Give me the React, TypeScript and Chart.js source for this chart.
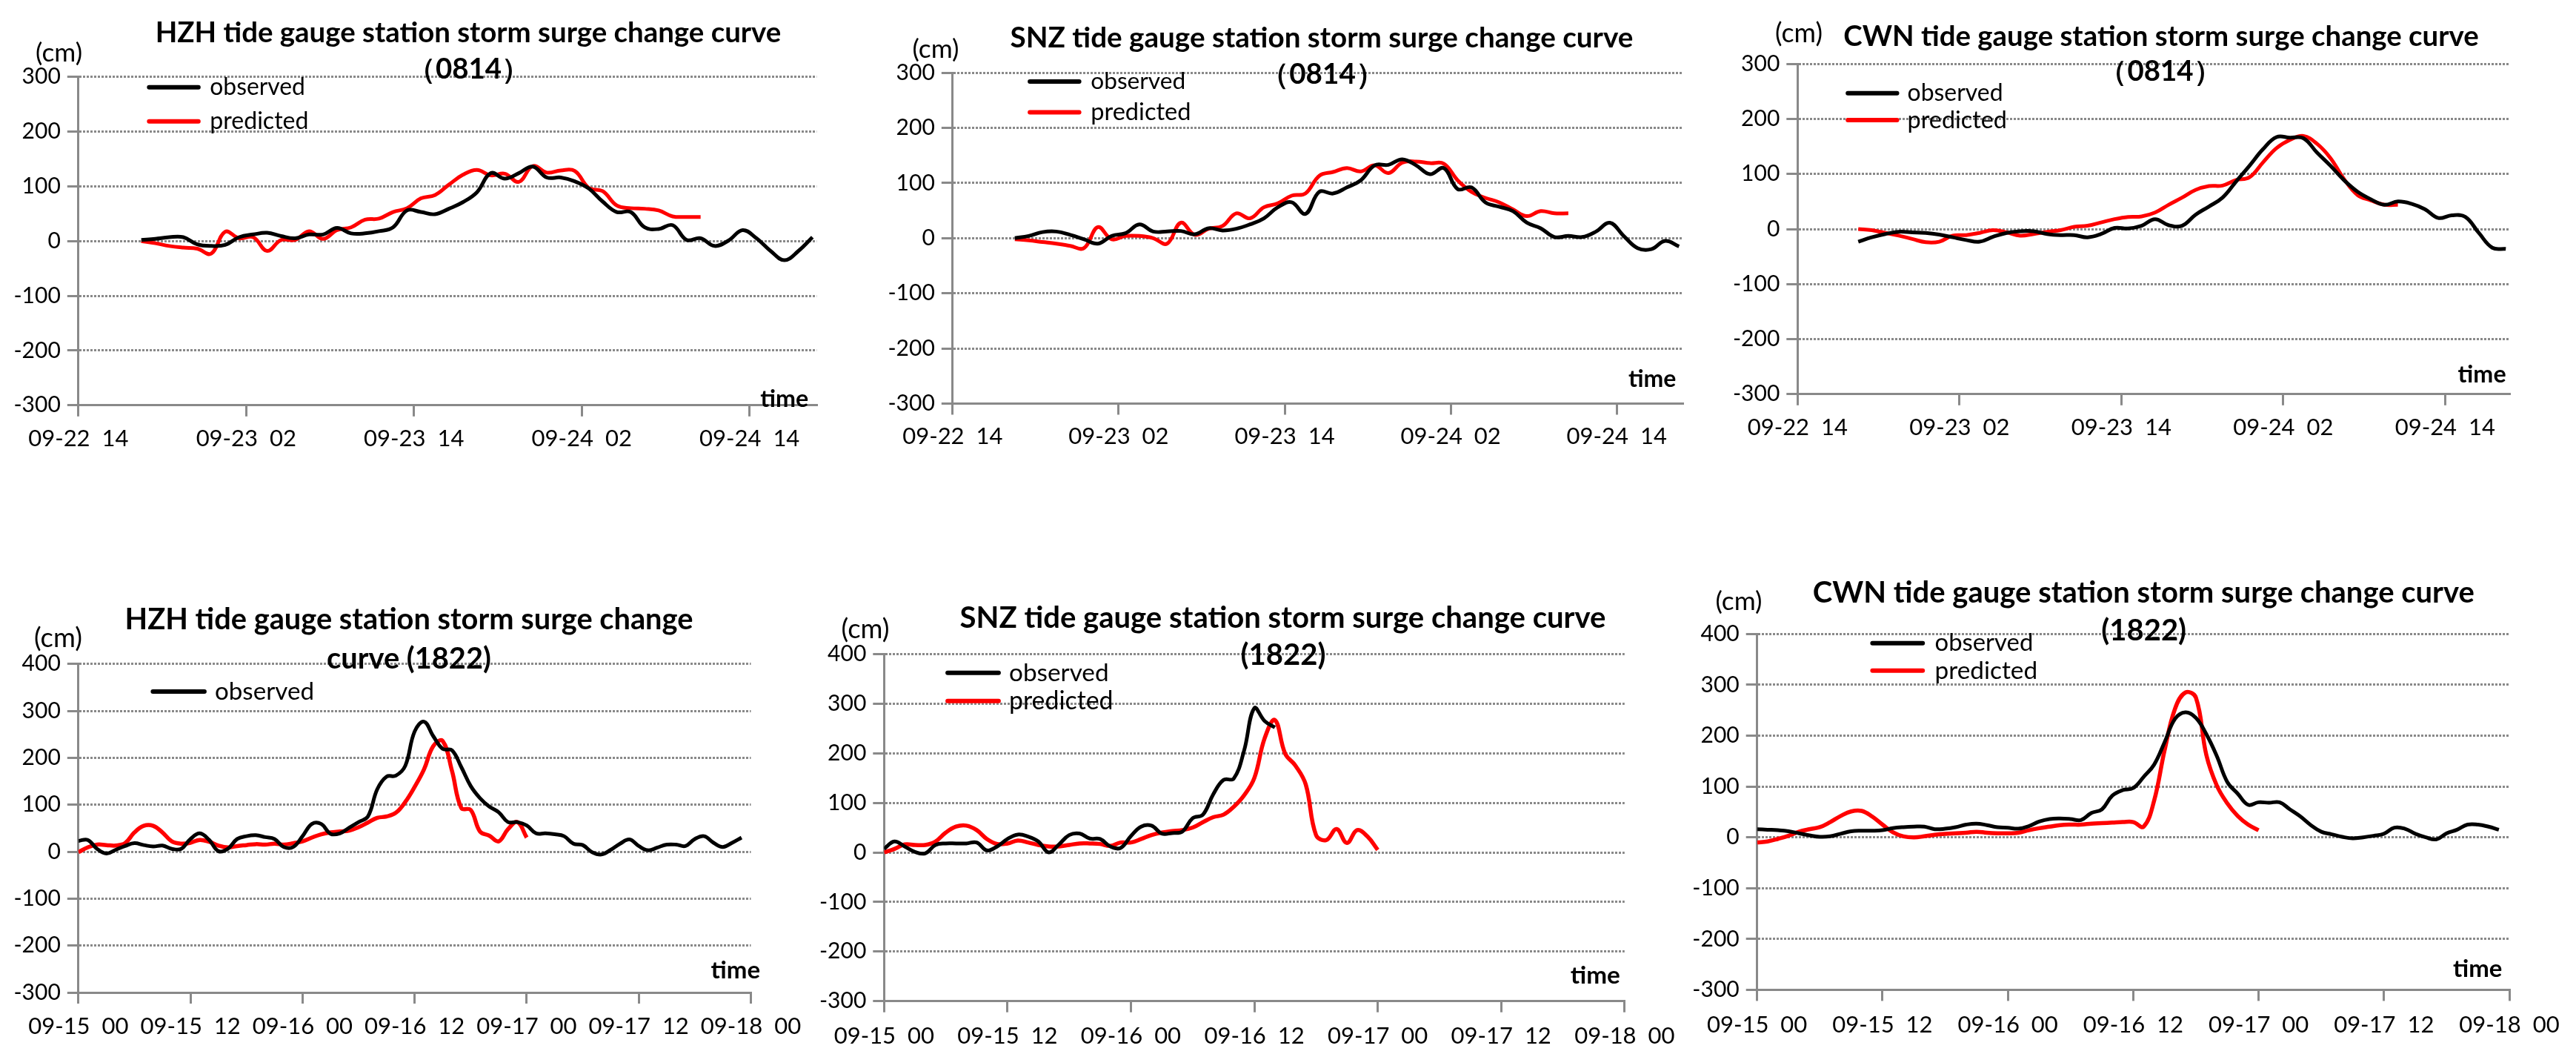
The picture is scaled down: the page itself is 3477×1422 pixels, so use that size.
import React, { useEffect, useRef } from 'react';
import { Chart, registerables } from 'chart.js';

Chart.register(...registerables);

const FONT = 'Lato, "Noto Sans", "DejaVu Sans", sans-serif';
const GRAY = '#898989';
const PAGE_W = 3477;
const PAGE_H = 1422;

// ---------- tick labels ----------
const xTicks0814 = ['09-22  14', '09-23  02', '09-23  14', '09-24  02', '09-24  14'];
const xTicks1822 = ['09-15  00', '09-15  12', '09-16  00', '09-16  12', '09-17  00', '09-17  12', '09-18  00'];

// ---------- time origin of each series (hours after first tick), hourly values ----------
const start0814 = 4.5;
const start1822 = 0;

// ---------- typhoon 0814 ----------
const hzh0814Observed = [2, 4, 7, 7, -6, -9, -7, 7, 12, 15, 9, 5, 12, 12, 24, 14, 14, 18, 25, 56, 53, 49, 59, 71, 89, 124, 114, 124, 136, 116, 116, 109, 96, 72, 53, 53, 25, 22, 29, 2, 5, -9, 1, 20, 5, -18, -35, -18, 7];
const hzh0814Predicted = [0, -4, -9, -12, -14, -23, 17, 5, 7, -18, 2, 2, 18, 4, 20, 25, 39, 41, 53, 60, 78, 84, 103, 121, 130, 120, 123, 108, 137, 125, 129, 128, 97, 91, 65, 60, 59, 56, 45, 44, 44];

const snz0814Observed = [0, 4, 11, 12, 6, -2, -10, 4, 9, 25, 12, 12, 13, 7, 18, 14, 17, 25, 36, 56, 65, 44, 84, 81, 92, 105, 132, 133, 143, 132, 116, 127, 89, 92, 65, 57, 49, 28, 18, 2, 4, 2, 12, 28, 4, -18, -20, -5, -15];
const snz0814Predicted = [-2, -4, -7, -10, -14, -18, 20, -2, 4, 4, 0, -10, 28, 6, 17, 22, 45, 36, 56, 63, 77, 81, 113, 120, 127, 121, 132, 118, 137, 139, 136, 135, 105, 84, 73, 65, 52, 40, 49, 45, 45];

const cwn0814Observed = [-23, -15, -9, -5, -6, -7, -10, -15, -20, -23, -14, -7, -4, -4, -9, -11, -11, -15, -9, 2, 1, 6, 18, 7, 6, 26, 41, 57, 86, 115, 145, 167, 166, 165, 139, 115, 89, 68, 54, 44, 50, 46, 36, 20, 25, 22, -7, -34, -36];
const cwn0814Predicted = [0, -2, -7, -12, -18, -24, -23, -12, -11, -7, -2, -6, -12, -9, -5, -2, 4, 6, 12, 18, 22, 23, 30, 44, 57, 71, 78, 79, 89, 94, 121, 147, 162, 169, 155, 129, 91, 62, 52, 44, 44];

// ---------- typhoon 1822 ----------
const hzh1822Observed = [
  23, 25, 6, -4, 4, 12, 18, 14, 11, 13, 6, 6,
  27, 39, 25, 1, 6, 27, 33, 35, 31, 27, 10, 10,
  33, 59, 59, 38, 39, 51, 63, 75, 133, 160, 162, 183,
  256, 277, 246, 219, 216, 180, 140, 114, 96, 84, 63, 63,
  56, 39, 39, 37, 33, 17, 14, -1, -6, 4, 17, 26,
  12, 3, 9, 15, 15, 12, 27, 33, 19, 10, 19, 30,
];
const hzh1822Predicted = [
  -1, 9, 15, 14, 13, 18, 41, 55, 55, 41, 22, 17,
  19, 25, 21, 13, 9, 12, 14, 16, 15, 17, 15, 18,
  22, 30, 37, 41, 43, 45, 52, 62, 72, 75, 83, 106,
  138, 175, 225, 236, 172, 93, 89, 43, 34, 22, 48, 63,
  30,
];

const snz1822Observed = [
  7, 22, 12, 1, -2, 15, 18, 18, 18, 20, 4, 12,
  27, 36, 32, 22, 0, 16, 35, 38, 28, 27, 12, 9,
  33, 52, 54, 38, 39, 42, 69, 76, 117, 146, 149, 205,
  291, 265, 252,
];
const snz1822Predicted = [
  0, 7, 16, 15, 15, 22, 40, 52, 54, 45, 27, 17,
  18, 24, 20, 15, 12, 12, 15, 18, 18, 17, 13, 20,
  20, 27, 35, 40, 43, 45, 50, 61, 71, 76, 92, 115,
  150, 230, 267, 199, 175, 137, 35, 25, 47, 19, 45, 32,
  5,
];

const cwn1822Observed = [
  16, 15, 14, 12, 8, 4, 1, 2, 7, 12, 13, 13,
  14, 18, 20, 21, 21, 16, 17, 20, 25, 27, 24, 20,
  19, 17, 22, 31, 36, 37, 36, 34, 48, 55, 82, 93,
  97, 119, 143, 187, 233, 246, 235, 203, 160, 109, 86, 64,
  69, 68, 69, 55, 41, 24, 11, 6, 1, -2, 0, 3,
  7, 19, 17, 7, 0, -4, 8, 15, 25, 25, 21, 15,
];
const cwn1822Predicted = [
  -10, -8, -3, 3, 11, 16, 20, 30, 42, 51, 52, 41,
  25, 10, 2, 0, 2, 5, 7, 8, 9, 11, 9, 8,
  8, 9, 14, 18, 21, 24, 25, 25, 27, 28, 29, 30,
  30, 21, 72, 171, 253, 285, 275, 162, 102, 67, 42, 25,
  14,
];

// ---------- texts ----------
const titles0814 = [
  ['HZH tide gauge station storm surge change curve', '（0814）'],
  ['SNZ tide gauge station storm surge change curve', '（0814）'],
  ['CWN tide gauge station storm surge change curve', '（0814）'],
];
const titles1822 = [
  ['HZH tide gauge station storm surge change', 'curve (1822)'],
  ['SNZ tide gauge station storm surge change curve', '(1822)'],
  ['CWN tide gauge station storm surge change curve', '(1822)'],
];
const unitLabel = '(cm)';
const axisName = 'time';
const seriesNames = ['observed', 'predicted'];

// ---------- layout (page pixel positions) ----------
type TextBox = { x: number; cy: number; w: number };
type Panel = {
  obs: number[];
  pred: number[];
  start: number;
  xTicks: string[];
  xMax: number;
  yMin: number;
  yMax: number;
  axisX: number;
  top: number;
  bottom: number;
  right: number;
  labelCY: number;
  title: string[];
  t1: TextBox;
  t2: TextBox;
  cm: TextBox;
  legX1: number;
  legX2: number;
  obsY: number;
  predY: number | null;
  textX: number;
  obsW: number;
  predW: number;
  time: TextBox;
  predWidth: number;
};

const panels: Panel[] = [
  {
    obs: hzh0814Observed, pred: hzh0814Predicted, start: start0814, xTicks: xTicks0814, xMax: 52.8, yMin: -300, yMax: 300,
    axisX: 105.8, top: 103.6, bottom: 546.8, right: 1102.3, labelCY: 591.5,
    title: titles0814[0], t1: { x: 632, cy: 44.5, w: 845 }, t2: { x: 632.5, cy: 93.9, w: 126 },
    cm: { x: 79.6, cy: 71.2, w: 63 },
    legX1: 198.3, legX2: 270.8, obsY: 117.8, predY: 163.7, textX: 283.3, obsW: 128.7, predW: 133.2,
    time: { x: 1091.2, cy: 538.5, w: 65 }, predWidth: 5,
  },
  {
    obs: snz0814Observed, pred: snz0814Predicted, start: start0814, xTicks: xTicks0814, xMax: 52.8, yMin: -300, yMax: 300,
    axisX: 1285.8, top: 98.1, bottom: 544.5, right: 2271.9, labelCY: 588.6,
    title: titles0814[1], t1: { x: 1784, cy: 51.4, w: 841 }, t2: { x: 1785, cy: 100.8, w: 126 },
    cm: { x: 1263, cy: 66.4, w: 63 },
    legX1: 1387.1, legX2: 1459.6, obsY: 109.9, predY: 151.4, textX: 1472.2, obsW: 128, predW: 135.4,
    time: { x: 2262.3, cy: 512, w: 64.4 }, predWidth: 5,
  },
  {
    obs: cwn0814Observed, pred: cwn0814Predicted, start: start0814, xTicks: xTicks0814, xMax: 52.8, yMin: -300, yMax: 300,
    axisX: 2426.3, top: 86.2, bottom: 531.8, right: 3387.7, labelCY: 576.7,
    title: titles0814[2], t1: { x: 2917, cy: 49.4, w: 857.5 }, t2: { x: 2916, cy: 96.9, w: 126 },
    cm: { x: 2428, cy: 45.5, w: 64 },
    legX1: 2491.2, legX2: 2563.5, obsY: 125.7, predY: 162.1, textX: 2574.6, obsW: 129, predW: 134.3,
    time: { x: 3382.6, cy: 506, w: 65 }, predWidth: 5,
  },
  {
    obs: hzh1822Observed, pred: hzh1822Predicted, start: start1822, xTicks: xTicks1822, xMax: 72, yMin: -300, yMax: 400,
    axisX: 105.8, top: 895.7, bottom: 1339, right: 1013.5, labelCY: 1384.9,
    title: titles1822[0], t1: { x: 552, cy: 836.4, w: 767 }, t2: { x: 552, cy: 888.8, w: 220 },
    cm: { x: 78.4, cy: 861.3, w: 65 },
    legX1: 203.4, legX2: 278.9, obsY: 933.1, predY: null, textX: 290, obsW: 134, predW: 0,
    time: { x: 1026, cy: 1308.9, w: 66.5 }, predWidth: 5.5,
  },
  {
    obs: snz1822Observed, pred: snz1822Predicted, start: start1822, xTicks: xTicks1822, xMax: 72, yMin: -300, yMax: 400,
    axisX: 1193.3, top: 882.4, bottom: 1350.7, right: 2192.8, labelCY: 1397.5,
    title: titles1822[1], t1: { x: 1731.5, cy: 833.9, w: 872 }, t2: { x: 1732, cy: 884.5, w: 113 },
    cm: { x: 1168, cy: 849.7, w: 65 },
    legX1: 1276.1, legX2: 1350.9, obsY: 907.8, predY: 945.8, textX: 1362, obsW: 134.6, predW: 140.6,
    time: { x: 2186.8, cy: 1316.3, w: 67 }, predWidth: 5.5,
  },
  {
    obs: cwn1822Observed, pred: cwn1822Predicted, start: start1822, xTicks: xTicks1822, xMax: 72, yMin: -300, yMax: 400,
    axisX: 2371.7, top: 855.4, bottom: 1335.4, right: 3387, labelCY: 1382.7,
    title: titles1822[2], t1: { x: 2893.3, cy: 800.1, w: 893 }, t2: { x: 2893.7, cy: 850.8, w: 114.4 },
    cm: { x: 2347, cy: 811.7, w: 63 },
    legX1: 2524.4, legX2: 2598.2, obsY: 867.7, predY: 904.8, textX: 2611.5, obsW: 132.8, predW: 138.7,
    time: { x: 3377.4, cy: 1307.6, w: 66.4 }, predWidth: 5.5,
  },
];

const Y_W = 100;
const X_H = 70;
const TICK_LEN = 15;
const X_FONT = 31;
const Y_FONT = 30;

function drawFitted(
  ctx: CanvasRenderingContext2D, text: string, weight: string,
  x: number, cy: number, width: number, align: CanvasTextAlign,
): number {
  ctx.font = `${weight} 100px ${FONT}`;
  const m = ctx.measureText(text).width || 1;
  const size = (100 * width) / m;
  drawSized(ctx, text, weight, x, cy, size, align);
  return size;
}

function drawSized(
  ctx: CanvasRenderingContext2D, text: string, weight: string,
  x: number, cy: number, size: number, align: CanvasTextAlign,
) {
  ctx.font = `${weight} ${size.toFixed(2)}px ${FONT}`;
  ctx.textAlign = align;
  ctx.textBaseline = 'middle';
  ctx.fillStyle = '#000';
  ctx.fillText(text, x, cy);
}

function overlayPlugin(p: Panel) {
  return {
    id: 'overlayText',
    afterDraw(chart: any) {
      const ctx: CanvasRenderingContext2D = chart.ctx;
      ctx.save();
      const titleSize = drawFitted(ctx, p.title[0], 'bold', p.t1.x, p.t1.cy, p.t1.w, 'center');
      drawSized(ctx, p.title[1], 'bold', p.t2.x, p.t2.cy, titleSize, 'center');
      drawFitted(ctx, unitLabel, 'normal', p.cm.x, p.cm.cy, p.cm.w, 'center');
      drawFitted(ctx, axisName, 'bold', p.time.x, p.time.cy, p.time.w, 'right');
      // legend
      ctx.lineCap = 'round';
      ctx.lineWidth = 6;
      ctx.strokeStyle = '#000';
      ctx.beginPath();
      ctx.moveTo(p.legX1 + 3, p.obsY);
      ctx.lineTo(p.legX2 - 3, p.obsY);
      ctx.stroke();
      drawFitted(ctx, seriesNames[0], 'normal', p.textX, p.obsY, p.obsW, 'left');
      if (p.predY !== null) {
        ctx.strokeStyle = '#ff0000';
        ctx.beginPath();
        ctx.moveTo(p.legX1 + 3, p.predY);
        ctx.lineTo(p.legX2 - 3, p.predY);
        ctx.stroke();
        drawFitted(ctx, seriesNames[1], 'normal', p.textX, p.predY, p.predW, 'left');
      }
      ctx.restore();
    },
  };
}

function toPoints(values: number[], start: number) {
  return values.map((v, i) => ({ x: start + i, y: v }));
}

function makeConfig(p: Panel): any {
  const xPad = p.labelCY - p.bottom - TICK_LEN - X_FONT / 2;
  return {
    type: 'line',
    data: {
      datasets: [
        {
          label: seriesNames[0],
          data: toPoints(p.obs, p.start),
          borderColor: '#000000',
          borderWidth: 5,
          pointRadius: 0,
          tension: 0.4,
          fill: false,
        },
        {
          label: seriesNames[1],
          data: toPoints(p.pred, p.start),
          borderColor: '#ff0000',
          borderWidth: p.predWidth,
          pointRadius: 0,
          tension: 0.4,
          fill: false,
        },
      ],
    },
    options: {
      responsive: false,
      animation: false,
      events: [],
      layout: {
        autoPadding: false,
        padding: {
          left: p.axisX - Y_W,
          top: p.top,
          right: PAGE_W - p.right,
          bottom: PAGE_H - p.bottom - X_H,
        },
      },
      plugins: {
        legend: { display: false },
        title: { display: false },
        tooltip: { enabled: false },
      },
      scales: {
        x: {
          type: 'linear',
          min: 0,
          max: p.xMax,
          afterFit: (s: any) => {
            s.height = X_H;
            s.paddingLeft = 0;
            s.paddingRight = 0;
          },
          ticks: {
            stepSize: 12,
            includeBounds: false,
            autoSkip: false,
            maxRotation: 0,
            minRotation: 0,
            padding: xPad,
            color: '#000',
            font: { family: FONT, size: X_FONT, lineHeight: 1 },
            callback: (v: number) => p.xTicks[Math.round(v / 12)] ?? '',
          },
          grid: {
            drawOnChartArea: false,
            drawTicks: true,
            tickLength: TICK_LEN,
            tickWidth: 3,
            tickColor: GRAY,
            color: GRAY,
            lineWidth: 3,
          },
          border: { display: true, color: GRAY, width: 3 },
        },
        y: {
          type: 'linear',
          min: p.yMin,
          max: p.yMax,
          afterFit: (s: any) => {
            s.width = Y_W;
            s.paddingTop = 0;
            s.paddingBottom = 0;
          },
          ticks: {
            stepSize: 100,
            padding: 9,
            color: '#000',
            font: { family: FONT, size: Y_FONT, lineHeight: 1 },
            callback: (v: number) => String(v),
          },
          grid: {
            color: GRAY,
            lineWidth: 3,
            drawTicks: true,
            tickLength: TICK_LEN,
            tickColor: GRAY,
            tickWidth: 3,
            tickBorderDash: [],
          },
          border: { display: true, color: GRAY, width: 3, dash: [3, 2] },
        },
      },
    },
    plugins: [overlayPlugin(p)],
  };
}

function PanelCanvas({ panel }: { panel: Panel }) {
  const ref = useRef<HTMLCanvasElement | null>(null);
  useEffect(() => {
    if (!ref.current) return;
    const chart = new Chart(ref.current, makeConfig(panel));
    return () => chart.destroy();
  }, [panel]);
  return (
    <canvas
      ref={ref}
      width={PAGE_W}
      height={PAGE_H}
      style={{ position: 'absolute', left: 0, top: 0, width: PAGE_W, height: PAGE_H }}
    />
  );
}

export default function App() {
  return (
    <div
      style={{
        position: 'absolute',
        left: 0,
        top: 0,
        width: PAGE_W,
        height: PAGE_H,
        background: '#ffffff',
        overflow: 'hidden',
      }}
    >
      {panels.map((p, i) => (
        <PanelCanvas key={i} panel={p} />
      ))}
    </div>
  );
}
